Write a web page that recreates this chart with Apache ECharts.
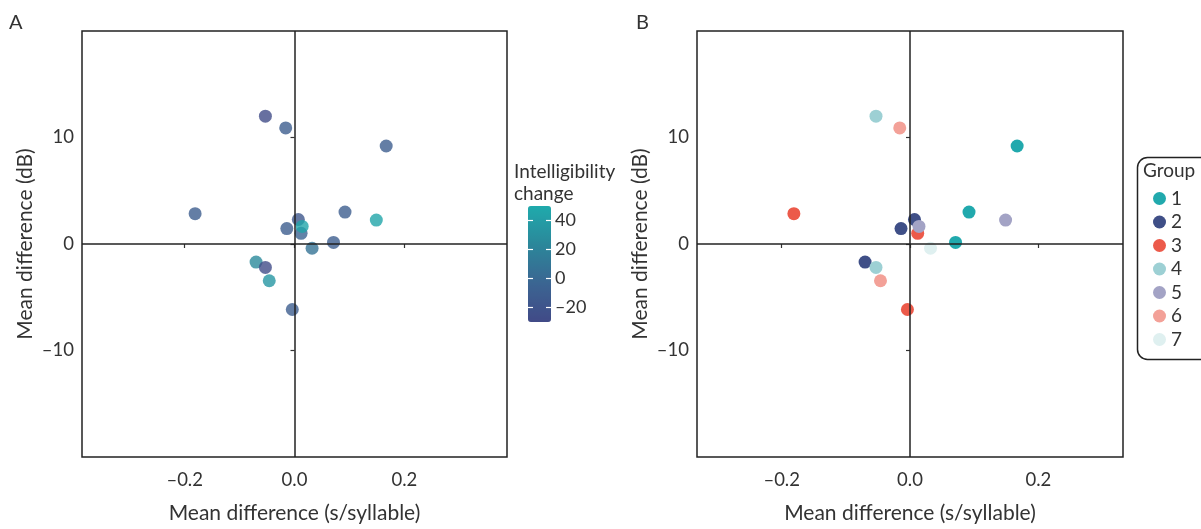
<!DOCTYPE html>
<html>
<head>
<meta charset="utf-8">
<script src="https://cdn.jsdelivr.net/npm/echarts@6/dist/echarts.min.js"></script>
<style>
    html, body { margin: 0; padding: 0; background: #fff; }
    #chart { width: 1201px; height: 529px; }
</style>
</head>
<body>
<div id="chart"></div>
<script>
// mean difference in speech rate (s/syllable)
var xDiff = [-0.053, -0.016, 0.167, -0.181, 0.092, 0.149, 0.007, 0.012, 0.014, -0.014, 0.071, 0.032, -0.070, -0.053, -0.046, -0.004];
// mean difference in intensity (dB)
var dbDiff = [12.0, 10.9, 9.2, 2.85, 3.0, 2.25, 2.3, 1.0, 1.65, 1.45, 0.15, -0.4, -1.7, -2.2, -3.45, -6.15];
// intelligibility change (colour in panel A)
var intelChange = [-28, -10, -10, -10, -10, 46, -17, -4, 46, -10, -10, 8, 25, -28, 35, -10];
// group membership (colour in panel B)
var groupOf = [4, 6, 1, 3, 1, 5, 2, 3, 5, 2, 1, 7, 2, 4, 6, 3];

var groupNames = ["1", "2", "3", "4", "5", "6", "7"];
var groupColors = ["#21a9ad", "#3f4f87", "#ec5a4a", "#9dd0d4", "#a3a3c5", "#f3a198", "#dff0f0"];

var xTicks = [-0.2, 0, 0.2];
var yTicks = [-10, 0, 10];
var barTicks = [-20, 0, 20, 40];

var FONT = "Lato";
var INK = "#333";

function dash(v) {
    return String(v).replace("-", "\u2013");
}

function xAxisOf(gridIndex, lim) {
    return {
        gridIndex: gridIndex,
        type: "value",
        min: -lim,
        max: lim,
        name: "Mean difference (s/syllable)",
        nameLocation: "middle",
        nameGap: 46,
        nameTextStyle: { fontFamily: FONT, fontSize: 21, color: INK },
        axisLine: { show: false },
        axisTick: { show: true, length: 4, customValues: xTicks, lineStyle: { color: INK, width: 1.2 } },
        axisLabel: {
            customValues: xTicks, margin: 14, fontFamily: FONT, fontSize: 18.5, color: INK,
            formatter: function (v) { return dash(v.toFixed(1)); }
        },
        splitLine: { show: false }
    };
}

function yAxisOf(gridIndex) {
    return {
        gridIndex: gridIndex,
        type: "value",
        min: -20,
        max: 20,
        name: "Mean difference (dB)",
        nameLocation: "middle",
        nameGap: 46,
        nameTextStyle: { fontFamily: FONT, fontSize: 21, color: INK },
        axisLine: { show: false },
        axisTick: { show: true, length: 4, customValues: yTicks, lineStyle: { color: INK, width: 1.2 } },
        axisLabel: {
            customValues: yTicks, margin: 8, fontFamily: FONT, fontSize: 18.5, color: INK,
            formatter: function (v) { return dash(v); }
        },
        splitLine: { show: false }
    };
}

function zeroLines(xi, yi) {
    // empty series holding the two reference lines, kept under the points
    return {
        type: "scatter", xAxisIndex: xi, yAxisIndex: yi, data: [], z: 1, silent: true,
        markLine: {
            silent: true, symbol: "none", animation: false,
            label: { show: false },
            lineStyle: { color: "#222", width: 1.5, type: "solid" },
            data: [{ xAxis: 0 }, { yAxis: 0 }]
        }
    };
}

var dataA = [];
var i;
for (i = 0; i < xDiff.length; i++) {
    dataA.push([xDiff[i], dbDiff[i], intelChange[i]]);
}

var series = [zeroLines(0, 0), zeroLines(1, 1)];
series.push({
    type: "scatter", xAxisIndex: 0, yAxisIndex: 0, z: 3,
    symbolSize: 13, data: dataA
});
groupNames.forEach(function (g, k) {
    var pts = [];
    for (var j = 0; j < xDiff.length; j++) {
        if (groupOf[j] === k + 1) {
            pts.push([xDiff[j], dbDiff[j]]);
        }
    }
    series.push({
        name: g, type: "scatter", xAxisIndex: 1, yAxisIndex: 1, z: 3,
        symbolSize: 13, itemStyle: { color: groupColors[k], opacity: 1 }, data: pts
    });
});

var barAxis = function (pos, withLabels) {
    return {
        gridIndex: 2, type: "value", position: pos, min: -30, max: 50, z: 10,
        axisLine: { show: false },
        axisTick: { show: true, inside: true, length: 5, customValues: barTicks, lineStyle: { color: "#fff", width: 1.2 } },
        axisLabel: {
            show: withLabels, customValues: barTicks, margin: 4, fontFamily: FONT, fontSize: 18, color: INK,
            formatter: function (v) { return dash(v); }
        },
        splitLine: { show: false }
    };
};

var option = {
    backgroundColor: "#fff",
    animation: false,
    textStyle: { fontFamily: FONT },
    grid: [
        { left: 82, top: 31, width: 425, height: 431, show: true, borderColor: "#222", borderWidth: 1.5 },
        { left: 697, top: 31, width: 426, height: 431, show: true, borderColor: "#222", borderWidth: 1.5 },
        { left: 528, top: 206, width: 23, height: 116, show: false }
    ],
    xAxis: [
        xAxisOf(0, 0.387),
        xAxisOf(1, 0.332),
        { gridIndex: 2, type: "value", show: false }
    ],
    yAxis: [
        yAxisOf(0),
        yAxisOf(1),
        barAxis("left", false),
        barAxis("right", true)
    ],
    visualMap: {
        type: "continuous",
        seriesIndex: 2,
        dimension: 2,
        min: -30,
        max: 50,
        calculable: false,
        hoverLink: false,
        left: 528,
        top: 206,
        padding: 0,
        itemWidth: 23,
        itemHeight: 116,
        text: null,
        inRange: { color: ["#414a87", "#3b6592", "#2b879a", "#1faaac"] }
    },
    legend: {
        data: groupNames,
        orient: "vertical",
        left: 1153,
        top: 189,
        padding: 0,
        icon: "circle",
        itemWidth: 13,
        itemHeight: 13,
        itemGap: 4.5,
        selectedMode: false,
        textStyle: { fontFamily: FONT, fontSize: 19, color: INK }
    },
    graphic: [
        { type: "text", left: 9, top: 13, style: { text: "A", fontFamily: FONT, fontSize: 20, fill: INK } },
        { type: "text", left: 636, top: 13, style: { text: "B", fontFamily: FONT, fontSize: 20, fill: INK } },
        {
            type: "text", left: 514, top: 161,
            style: { text: "Intelligibility\nchange", fontFamily: FONT, fontSize: 19, lineHeight: 22, fill: INK }
        },
        {
            type: "rect", left: 1135, top: 155,
            shape: { width: 90, height: 202, r: 10 },
            style: { fill: "none", stroke: "#222", lineWidth: 1.5 }
        },
        { type: "text", left: 1143, top: 161, style: { text: "Group", fontFamily: FONT, fontSize: 19, fill: INK } }
    ],
    series: series
};

var chart = echarts.init(document.getElementById("chart"));
chart.setOption(option);
</script>
</body>
</html>
